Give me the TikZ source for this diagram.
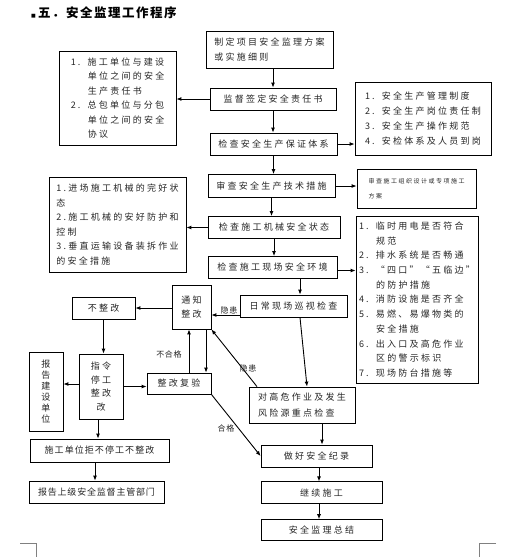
\documentclass[tikz,border=0pt]{standalone}
\usepackage{fontspec}
\usepackage{xcolor}
\usepackage{tikz}
\usetikzlibrary{arrows.meta,positioning,calc}
\newfontfamily\cjk{Noto Sans CJK SC}[LetterSpace=25]
\newfontfamily\cjktitle{Noto Sans CJK SC}[LetterSpace=12]
\newfontfamily\cjklabel{Noto Sans CJK SC}[LetterSpace=8]
\newfontfamily\symfont{DejaVu Sans}
\newcommand{\listno}[1]{\makebox[17pt][l]{#1.}}
\newcommand{\listgap}{\hspace*{17pt}}
\tikzset{
  flowarrow/.style={-{Latex[length=5pt,width=4pt]}, line width=0.9pt, draw=black},
  stepbox/.style={draw=black, line width=0.8pt, fill=white, align=center,
    inner sep=2pt, minimum height=22pt, text=black!85,
    font=\cjk\fontsize{9}{14.5}\selectfont},
  listbox/.style={stepbox, align=left},
  tightbox/.style={stepbox, font=\cjk\addfontfeature{LetterSpace=12}\fontsize{9}{14.5}\selectfont},
  smallbox/.style={stepbox, align=left, font=\cjk\fontsize{6}{15}\selectfont},
  flowlabel/.style={font=\cjklabel\fontsize{8}{8}\selectfont, inner sep=0.5pt, text=black!85},
  titletext/.style={font=\cjktitle\bfseries\fontsize{12.5}{14}\selectfont, inner sep=0pt},
  cropmark/.style={draw=black!50, line width=0.6pt}
}
\begin{document}
\begin{tikzpicture}[x=1pt, y=-1pt]
  \useasboundingbox[fill=white] (0,0) rectangle (531,557);
  % title
  \node[titletext, anchor=west] (title) at (31,13) {{\symfont\fontsize{5}{5}\selectfont ■}\,五．安全监理工作程序};

  % main column
  \node[stepbox, align=left, minimum width=127pt, minimum height=37pt] (zhiding) at (269.5,49.5) {制定项目安全监理方案\\或实施细则};
  \node[stepbox, minimum width=126pt] (jiandu) at (273,99) {监督签定安全责任书};
  \node[stepbox, minimum width=127pt] (baozheng) at (273.5,144) {检查安全生产保证体系};
  \node[stepbox, minimum width=127pt, minimum height=23pt] (jishu) at (271.5,186) {审查安全生产技术措施};
  \node[stepbox, minimum width=132pt] (jixie) at (274,227.5) {检查施工机械安全状态};
  \node[stepbox, minimum width=129pt] (huanjing) at (272.5,267.5) {检查施工现场安全环境};

  % side lists
  \node[listbox, minimum width=117pt, minimum height=94pt] (zeren) at (117.5,98) {\listno{1}施工单位与建设\\\listgap 单位之间的安全\\\listgap 生产责任书\\\listno{2}总包单位与分包\\\listgap 单位之间的安全\\\listgap 协议};
  \node[listbox, minimum width=136pt, minimum height=73pt, font=\cjk\fontsize{9}{15}\selectfont] (tixi) at (423,118.5) {\listno{1}安全生产管理制度\\\listno{2}安全生产岗位责任制\\\listno{3}安全生产操作规范\\\listno{4}安检体系及人员到岗};
  \node[smallbox, minimum width=119pt, minimum height=39pt] (fangan) at (416.5,188.5) {审查施工组织设计或专项施工\\方案};
  \node[listbox, minimum width=137pt, minimum height=95pt] (jixiezt) at (117.5,224.5) {1.进场施工机械的完好状\\态\\2.施工机械的安好防护和\\控制\\3.垂直运输设备装拆作业\\的安全措施};
  \node[listbox, minimum width=122pt, minimum height=167pt, font=\cjk\fontsize{9}{14.7}\selectfont] (huanjingnr) at (417,299.5) {\listno{1}临时用电是否符合\\\listgap 规范\\\listno{2}排水系统是否畅通\\\listno{3}“四口”“五临边”\\\listgap 的防护措施\\\listno{4}消防设施是否齐全\\\listno{5}易燃、易爆物类的\\\listgap 安全措施\\\listno{6}出入口及高危作业\\\listgap 区的警示标识\\\listno{7}现场防台措施等};

  % inspection and rectification
  \node[stepbox, minimum width=107pt] (xunshi) at (293.5,306) {日常现场巡视检查};
  \node[stepbox, minimum width=39pt, minimum height=44pt, inner sep=1pt] (tongzhi) at (191.5,307) {通知\\整改};
  \node[stepbox, minimum width=63pt] (buzhenggai) at (103.5,308) {不整改};
  \node[stepbox, minimum width=44pt, minimum height=65pt, inner sep=1pt, font=\cjk\fontsize{9}{13.7}\selectfont] (zhiling) at (101,386.5) {指令\\停工\\整改\\改};
  \node[stepbox, minimum width=34pt, minimum height=79pt, inner sep=1pt, font=\cjk\fontsize{9}{11}\selectfont] (baogao) at (46,391.5) {报\\告\\建\\设\\单\\位};
  \node[stepbox, minimum width=64pt, minimum height=21pt] (fuyan) at (179,383.5) {整改复验};
  \node[stepbox, align=left, minimum width=106pt, minimum height=36pt, font=\cjk\fontsize{9}{16}\selectfont] (gaowei) at (302,405) {对高危作业及发生\\风险源重点检查};
  \node[stepbox, minimum width=111pt] (jilu) at (316.5,456) {做好安全纪录};
  \node[stepbox, minimum width=121pt, below=14pt of jilu, xshift=5pt] (jixu) {继续施工};
  \node[stepbox, minimum width=121pt, minimum height=21pt, below=15pt of jixu] (zongjie) {安全监理总结};
  \node[tightbox, minimum width=139pt, minimum height=23pt] (jubu) at (99.5,450.5) {施工单位拒不停工不整改};
  \node[tightbox, minimum width=135pt, font=\cjk\addfontfeature{LetterSpace=9}\fontsize{9}{14.5}\selectfont] (shangji) at (96.5,492) {报告上级安全监督主管部门};

  % main flow
  \draw[flowarrow] ([xshift=3.5pt]zhiding.south) -- (jiandu.north);
  \draw[flowarrow] (jiandu.south) -- (jiandu.south |- baozheng.north);
  \draw[flowarrow] (baozheng.south) -- (baozheng.south |- jishu.north);
  \draw[flowarrow] (jishu.south) -- (jishu.south |- jixie.north);
  \draw[flowarrow] (jixie.south) -- (jixie.south |- huanjing.north);

  % side arrows
  \draw[flowarrow] (jiandu.west) -- (jiandu.west -| zeren.east);
  \draw[flowarrow] (baozheng.east) -- (baozheng.east -| tixi.west);
  \draw[flowarrow] (jishu.east) -- (jishu.east -| fangan.west);
  \draw[flowarrow] (jixie.west) -- (jixie.west -| jixiezt.east);
  \draw[flowarrow] ([yshift=-3pt]huanjing.east) -- ([yshift=-3pt]huanjing.east -| huanjingnr.west);

  % inspection loop
  \coordinate (xunshitop) at ([xshift=6.5pt]xunshi.north);
  \draw[flowarrow] (xunshitop |- huanjing.south) -- (xunshitop);
  \draw[flowarrow] ([yshift=-9pt]xunshi.west) -- ([yshift=-9pt]xunshi.west -| tongzhi.east);
  \node[flowlabel] (yinhuana) at (229,310) {隐患};
  \draw[flowarrow] ([xshift=6.5pt]xunshi.south) -- ([xshift=5pt]gaowei.north);
  \draw[flowarrow] ([xshift=-45pt]gaowei.north) -- (tongzhi.south east);
  \node[flowlabel] (yinhuanb) at (248,368) {隐患};
  \draw[flowarrow] (tongzhi.west |- buzhenggai.east) -- (buzhenggai.east);
  \draw[flowarrow] (buzhenggai.south) -- (buzhenggai.south |- zhiling.north);
  \draw[flowarrow] ([yshift=2.5pt]zhiling.west) -- ([yshift=2.5pt]zhiling.west -| baogao.east);
  \draw[flowarrow] (zhiling.east) -- (zhiling.east -| fuyan.west);
  \coordinate (fuyanup) at ([xshift=10pt]fuyan.north);
  \draw[flowarrow] (fuyanup) -- (fuyanup |- tongzhi.south);
  \node[flowlabel] (buhege) at (169,354) {不合格};
  \coordinate (tongzhidown) at ([xshift=14.5pt]tongzhi.south);
  \draw[flowarrow] (tongzhidown) -- (tongzhidown |- fuyan.north);
  \draw[flowarrow] (fuyan.south east) -- (jilu.west);
  \node[flowlabel] (hege) at (226,428) {合格};
  \coordinate (gaoweidown) at ([xshift=20pt]gaowei.south);
  \draw[flowarrow] (gaoweidown) -- (gaoweidown |- jilu.north);
  \draw[flowarrow] ([xshift=2.5pt]jilu.south) -- ([xshift=2.5pt]jilu.south |- jixu.north);
  \draw[flowarrow] ([xshift=-2.5pt]jixu.south) -- ([xshift=-2.5pt]zongjie.north);
  \coordinate (zhilingdown) at ([xshift=-3pt]zhiling.south);
  \draw[flowarrow] (zhilingdown) -- (zhilingdown |- jubu.north);
  \coordinate (jubudown) at ([xshift=-4.5pt]jubu.south);
  \draw[flowarrow] (jubudown) -- (jubudown |- shangji.north);

  % page corners
  \draw[cropmark] (20,543) -- (36,543) -- (36,557);
  \draw[cropmark] (496,543) -- (479,543) -- (479,557);
\end{tikzpicture}
\end{document}
